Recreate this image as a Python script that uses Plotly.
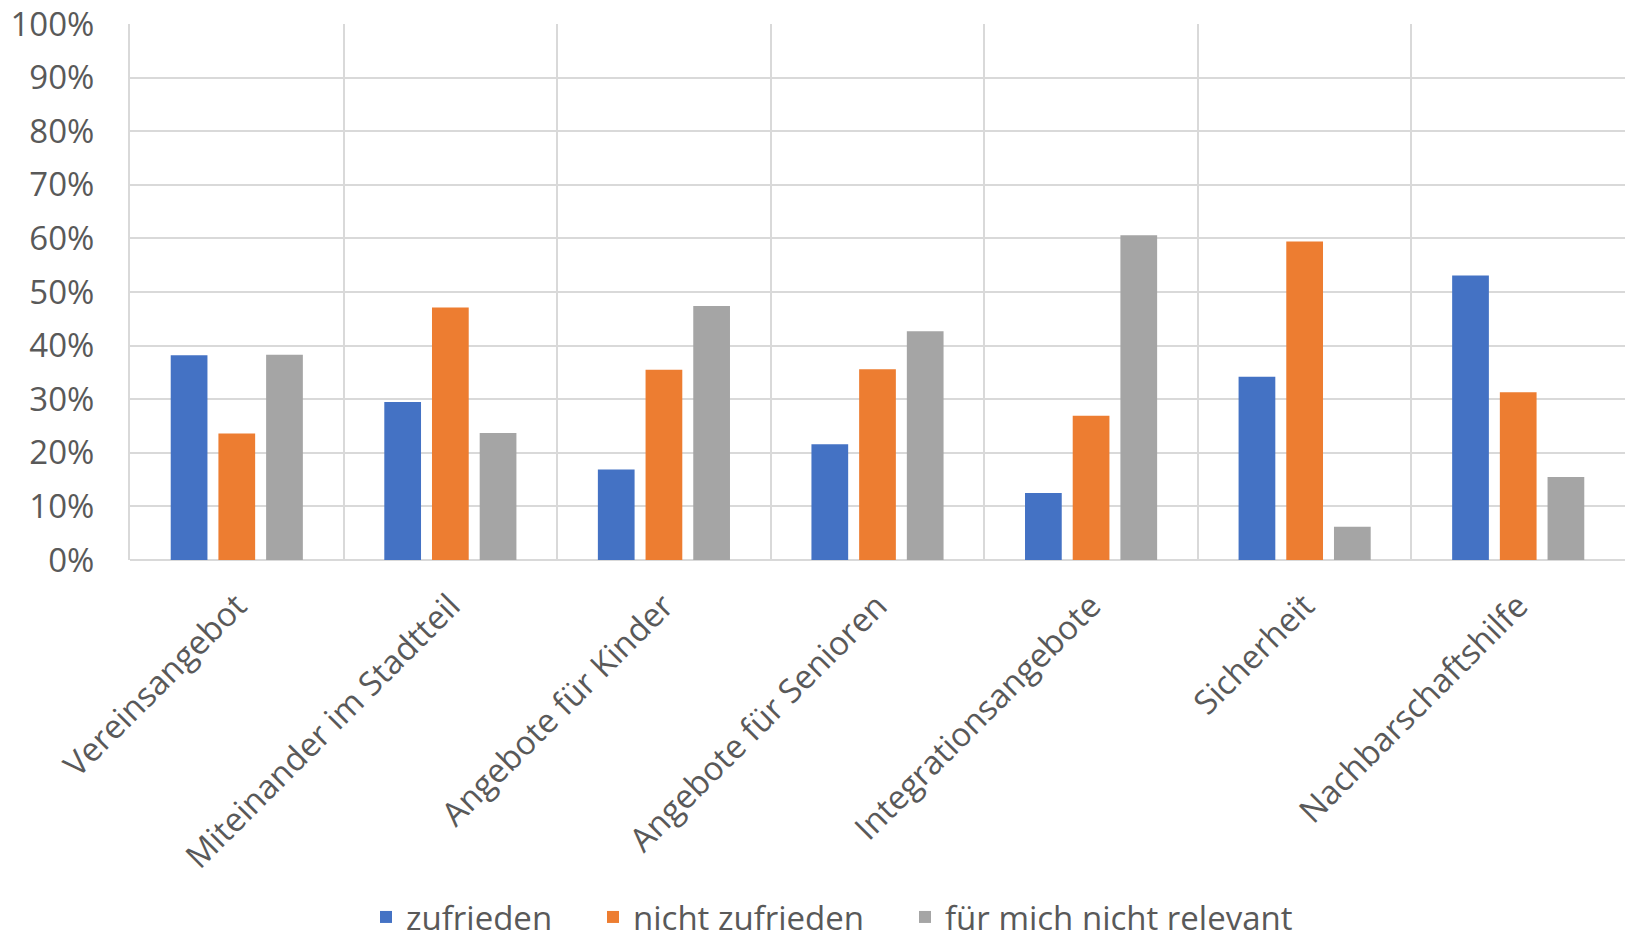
import plotly.graph_objects as go

categories = ["Vereinsangebot", "Miteinander im Stadtteil", "Angebote für Kinder",
              "Angebote für Senioren", "Integrationsangebote", "Sicherheit", "Nachbarschaftshilfe"]
zufrieden = [38.2, 29.5, 16.9, 21.6, 12.5, 34.2, 53.1]
nicht_zufrieden = [23.6, 47.1, 35.5, 35.6, 26.9, 59.4, 31.3]
nicht_relevant = [38.3, 23.7, 47.4, 42.7, 60.6, 6.2, 15.5]
series_names = ["zufrieden", "nicht zufrieden", "für mich nicht relevant"]
y_ticks = list(range(0, 101, 10))

colors = ["#4472C4", "#ED7D31", "#A5A5A5"]
legend_ids = ["legend", "legend2", "legend3"]
legend_x = [366, 593, 905]
font_family = "Open Sans"
text_color = "#595959"
W, H = 1625, 940

fig = go.Figure()
for name, vals, col, lg in zip(series_names, [zufrieden, nicht_zufrieden, nicht_relevant], colors, legend_ids):
    fig.add_trace(go.Bar(x=categories, y=vals, name=name, legend=lg,
                         marker=dict(color=col, line=dict(width=0))))

legend_common = dict(orientation="h", xref="container", yref="container",
                     xanchor="left", y=(H - 917) / H, yanchor="middle",
                     font=dict(size=33, color=text_color, family=font_family),
                     itemclick=False, bgcolor="rgba(0,0,0,0)")
layout_legends = {}
for lg, lx in zip(legend_ids, legend_x):
    layout_legends[lg] = dict(legend_common, x=lx / W)

fig.update_layout(
    width=W, height=H,
    paper_bgcolor="white", plot_bgcolor="white",
    margin=dict(l=130, r=0, t=24, b=380, autoexpand=False),
    barmode="group", bargap=0.33, bargroupgap=0.23,
    font=dict(family=font_family, color=text_color, size=33),
    showlegend=True,
    **layout_legends,
)
fig.update_xaxes(
    type="category", tickangle=-45, tickson="boundaries",
    showgrid=True, gridcolor="#D9D9D9", gridwidth=2,
    showline=False, ticks="", automargin=False, ticklabelstandoff=19,
    tickfont=dict(size=33, color=text_color, family=font_family),
)
fig.update_yaxes(
    range=[0, 100], tickvals=y_ticks, ticktext=[f"{v}%" for v in y_ticks],
    showgrid=True, gridcolor="#D9D9D9", gridwidth=2,
    zeroline=True, zerolinecolor="#D9D9D9", zerolinewidth=2,
    showline=True, linecolor="#D9D9D9", linewidth=2,
    ticks="", ticklabelstandoff=27, automargin=False,
    tickfont=dict(size=33, color=text_color, family=font_family),
)

fig.write_html("out.html", config={"displayModeBar": False},
               post_script="document.body.style.margin='0';")
